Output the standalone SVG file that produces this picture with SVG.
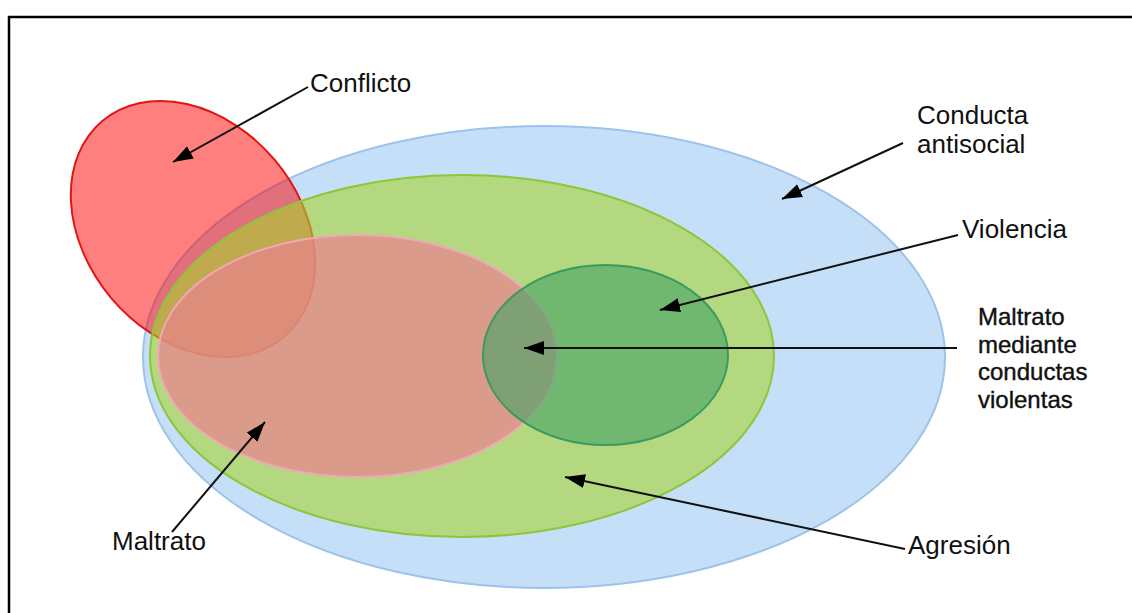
<svg xmlns="http://www.w3.org/2000/svg" width="1132" height="613" viewBox="0 0 1132 613">
<style>
.lbl{font-family:"Liberation Sans",Arial,sans-serif;font-size:26px;fill:#111}
.lbl2{font-family:"Liberation Sans",Arial,sans-serif;font-size:24px;fill:#111;stroke:#111;stroke-width:0.4}
.con{stroke:#111;stroke-width:2;fill:none;marker-end:url(#ah)}
</style>
<defs>
<marker id="ah" markerUnits="userSpaceOnUse" markerWidth="22" markerHeight="16" refX="20" refY="7" orient="auto">
<path d="M0,0 L20,7 L0,14 z" fill="#000"/>
</marker>
</defs>
<rect x="0" y="0" width="1132" height="613" fill="#fff"/>
<rect x="9" y="17" width="1140" height="620" fill="none" stroke="#000" stroke-width="2.5"/>
<g id="conducta-antisocial">
<ellipse cx="544" cy="357" rx="401" ry="231" fill="#c5dff8" stroke="#9dc3ea" stroke-width="2"/>
</g>
<g id="conflicto">
<ellipse cx="193" cy="229" rx="141" ry="107" transform="rotate(50 193 229)" fill="#ff0000" fill-opacity="0.5" stroke="#e01515" stroke-width="2"/>
</g>
<g id="agresion">
<ellipse cx="462" cy="356" rx="312" ry="181" fill="#a9d32e" fill-opacity="0.6" stroke="#8cc63a" stroke-width="2"/>
</g>
<g id="maltrato">
<ellipse cx="357.5" cy="356" rx="199.5" ry="121" fill="#e9828f" fill-opacity="0.7" stroke="#f2a7b8" stroke-width="2"/>
</g>
<g id="violencia">
<ellipse cx="605.5" cy="355" rx="122.5" ry="90" fill="#43a366" fill-opacity="0.6" stroke="#3b9a60" stroke-width="2"/>
</g>
<g id="connectors">
<line class="con" x1="308" y1="87" x2="173" y2="162"/>
<line class="con" x1="903" y1="143" x2="782" y2="199"/>
<line class="con" x1="958" y1="235" x2="660" y2="310"/>
<line class="con" x1="957" y1="348" x2="524" y2="348"/>
<line class="con" x1="905" y1="549" x2="565" y2="477"/>
<line class="con" x1="172" y1="532" x2="265" y2="422"/>
</g>
<g id="labels">
<text class="lbl" x="310" y="92">Conflicto</text>
<text class="lbl" x="917" y="124">Conducta</text>
<text class="lbl" x="917" y="153">antisocial</text>
<text class="lbl" x="962" y="238">Violencia</text>
<text class="lbl2" x="978" y="325">Maltrato</text>
<text class="lbl2" x="978" y="353">mediante</text>
<text class="lbl2" x="978" y="380">conductas</text>
<text class="lbl2" x="978" y="408">violentas</text>
<text class="lbl" x="908" y="554">Agresión</text>
<text class="lbl" x="112" y="550">Maltrato</text>
</g>
</svg>
